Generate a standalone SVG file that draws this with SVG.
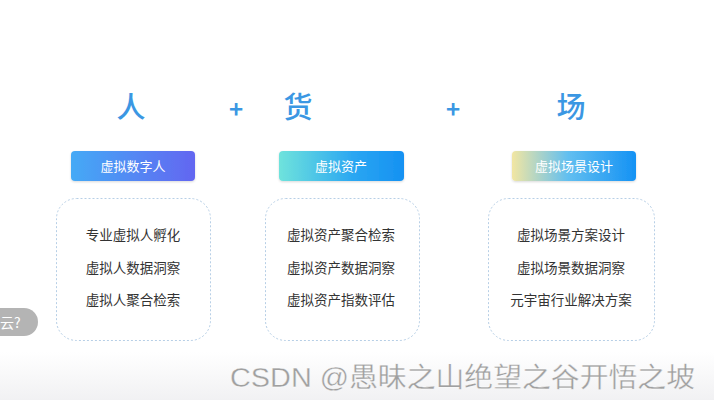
<svg xmlns="http://www.w3.org/2000/svg" width="714" height="400" viewBox="0 0 714 400">
<defs>
<linearGradient id="g1" x1="0" y1="0" x2="1" y2="0"><stop offset="0" stop-color="#44aaf6"/><stop offset="1" stop-color="#6366f1"/></linearGradient>
<linearGradient id="g2" x1="0" y1="0" x2="1" y2="0"><stop offset="0" stop-color="#6fe3dc"/><stop offset="0.6" stop-color="#2aa6f2"/><stop offset="1" stop-color="#1591f2"/></linearGradient>
<linearGradient id="g3" x1="0" y1="0" x2="1" y2="0"><stop offset="0" stop-color="#f2e6a2"/><stop offset="0.45" stop-color="#62bff0"/><stop offset="1" stop-color="#1592f4"/></linearGradient>
<linearGradient id="bg" x1="0" y1="0" x2="0" y2="1"><stop offset="0" stop-color="#ffffff"/><stop offset="0.88" stop-color="#ffffff"/><stop offset="1" stop-color="#f1f1f3"/></linearGradient>
<filter id="sh" x="-5%" y="-20%" width="110%" height="140%"><feDropShadow dx="0" dy="1" stdDeviation="1" flood-color="#000" flood-opacity="0.15"/></filter>
</defs>
<style>
.t{font-family:"Noto Sans CJK SC","Noto Sans",sans-serif}
.big{font-size:29px;font-weight:500;fill:#3b97e3;text-anchor:middle}
.plus{font-size:24px;font-weight:bold;fill:#3b97e3;text-anchor:middle}
.btn{font-size:13px;fill:#ffffff;text-anchor:middle}
.item{font-size:13.5px;fill:#333333;text-anchor:middle}
.box{fill:none;stroke:#b7cfe6;stroke-width:1;stroke-dasharray:2 2}
</style>
<rect width="714" height="400" fill="url(#bg)"/>
<text class="t big" x="131" y="118">人</text>
<text class="t plus" x="236" y="118">+</text>
<text class="t big" x="298" y="118">货</text>
<text class="t plus" x="453" y="118">+</text>
<text class="t big" x="571" y="118">场</text>
<g id="node-ren">
<rect x="71" y="151" width="124" height="30" rx="4" fill="url(#g1)" filter="url(#sh)"/>
<text class="t btn" x="133" y="171">虚拟数字人</text>
<rect class="box" x="56.5" y="198.5" width="154" height="142" rx="20"/>
<text class="t item" x="133" y="240">专业虚拟人孵化</text>
<text class="t item" x="133" y="273">虚拟人数据洞察</text>
<text class="t item" x="133" y="305">虚拟人聚合检索</text>
</g>
<g id="node-huo">
<rect x="279" y="151" width="125" height="30" rx="4" fill="url(#g2)" filter="url(#sh)"/>
<text class="t btn" x="341" y="171">虚拟资产</text>
<rect class="box" x="265.5" y="198.5" width="154" height="142" rx="20"/>
<text class="t item" x="341" y="240">虚拟资产聚合检索</text>
<text class="t item" x="341" y="273">虚拟资产数据洞察</text>
<text class="t item" x="341" y="305">虚拟资产指数评估</text>
</g>
<g id="node-chang">
<rect x="512" y="151" width="124" height="30" rx="4" fill="url(#g3)" filter="url(#sh)"/>
<text class="t btn" x="574" y="171">虚拟场景设计</text>
<rect class="box" x="488.5" y="198.5" width="166" height="142" rx="20"/>
<text class="t item" x="571" y="240">虚拟场景方案设计</text>
<text class="t item" x="571" y="273">虚拟场景数据洞察</text>
<text class="t item" x="571" y="305">元宇宙行业解决方案</text>
</g>
<g id="connectors"></g>
<rect x="-20" y="308" width="58" height="28" rx="14" fill="#b4b4b4"/>
<text class="t" x="0" y="328" font-size="14" fill="#ffffff">云?</text>
<text x="230" y="387" font-size="27" fill="#a0a0a0" stroke="#ffffff" stroke-width="0.3" textLength="465" lengthAdjust="spacingAndGlyphs" style="font-family:'Liberation Sans','Noto Sans CJK SC',sans-serif">CSDN @愚昧之山绝望之谷开悟之坡</text>
</svg>
